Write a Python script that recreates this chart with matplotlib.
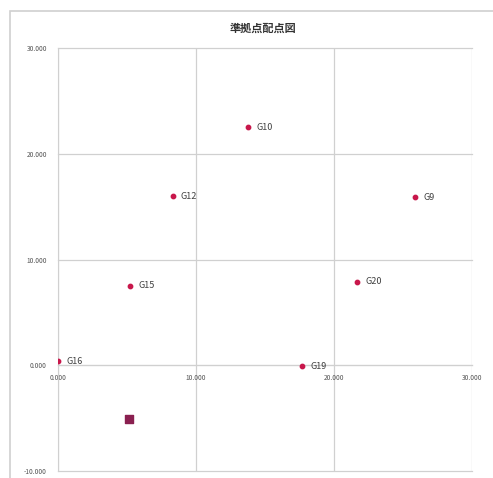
import matplotlib.pyplot as plt
from matplotlib.patches import Rectangle

plt.rcParams['font.family'] = ['Noto Sans CJK JP', 'DejaVu Sans']

# survey points (x, y)
names = ['G10', 'G12', 'G9', 'G15', 'G20', 'G16', 'G19']
xs = [13.8, 8.3, 25.9, 5.2, 21.7, 0.0, 17.7]
ys = [22.5, 16.0, 15.9, 7.5, 7.9, 0.4, -0.1]

# reference point
ref_x = [5.15]
ref_y = [-5.1]

xticks = [0, 10, 20, 30]
yticks = [-10, 0, 10, 20, 30]

fig = plt.figure(figsize=(4.93, 4.78), dpi=100)
ax = fig.add_axes([0.1176, 0.0146, 0.8398, 0.885])

# chart frame like a spreadsheet chart
fig.patches.append(Rectangle((10 / 493, -0.1), 1.2, 1 - 11 / 478 + 0.1,
                             transform=fig.transFigure, fill=False,
                             edgecolor='#d0d0d0', linewidth=1.2))

ax.scatter(xs, ys, s=10, color='#c8174b', zorder=3)
ax.scatter(ref_x, ref_y, s=36, marker='s', color='#8a2050', zorder=3)
for n, x, y in zip(names, xs, ys):
    ax.annotate(n, (x, y), xytext=(6, 0), textcoords='offset points',
                va='center', fontsize=6.5, color='#404040')

ax.set_xlim(0, 30)
ax.set_ylim(-10, 30)
ax.set_xticks(xticks)
ax.set_yticks(yticks)
ax.set_xticklabels(['%.3f' % v for v in xticks])
ax.set_yticklabels(['%.3f' % v for v in yticks])
ax.grid(color='#d0d0d0', linewidth=0.9)
ax.set_axisbelow(True)
for line in ax.get_xgridlines() + ax.get_ygridlines():
    line.set_clip_on(False)

for s in ['top', 'right']:
    ax.spines[s].set_visible(False)
ax.spines['bottom'].set_position(('data', 0))
ax.spines['bottom'].set_color('#d0d0d0')
ax.spines['left'].set_color('#d0d0d0')
ax.tick_params(length=0, labelsize=4.8, colors='#555555', pad=8)
ax.tick_params(axis='x', pad=6)

fig.text(263 / 493, 1 - 28 / 478, '準拠点配点図', ha='center', va='center',
         fontsize=8, fontweight='bold', color='#333333')

fig.savefig('out.png', dpi=100)
